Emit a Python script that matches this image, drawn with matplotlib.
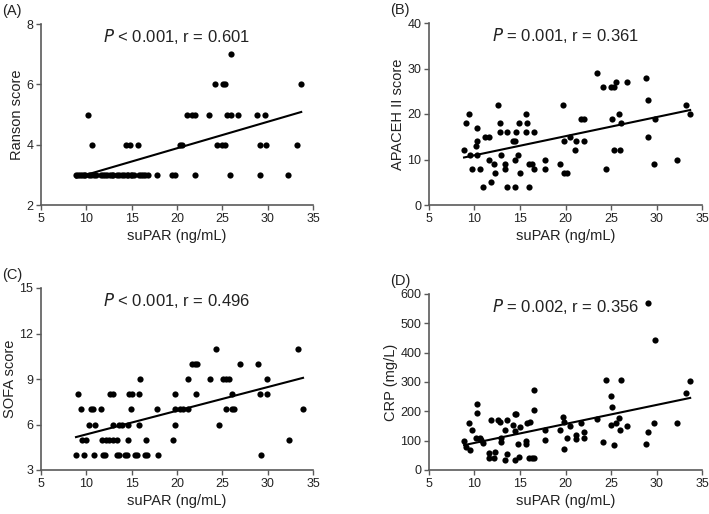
import numpy as np
import matplotlib.pyplot as plt

plt.rcParams['font.family'] = ['Liberation Sans', 'DejaVu Sans']

# (A) Ranson score
ranson_x = [8.9, 9.1, 9.3, 9.5, 9.7, 9.9, 10.3, 10.5, 10.9, 11.1, 11.6, 11.8, 12.1, 12.3,
            12.6, 12.8, 12.9, 13.4, 13.6, 13.9, 14.2, 14.5, 14.6, 14.9, 15.0, 15.3, 15.8,
            16.0, 16.3, 16.5, 16.8, 17.8, 19.5, 19.8, 22.0, 25.9, 29.1, 32.2,
            10.6, 14.4, 14.8, 15.7, 20.3, 20.5, 24.4, 25.0, 25.3, 29.1, 29.8, 33.2,
            10.2, 21.1, 21.6, 22.0, 23.5, 25.5, 26.0, 26.7, 28.8, 29.7,
            24.2, 25.1, 25.3, 33.7,
            26.0]
ranson_y = [3] * 38 + [4] * 12 + [5] * 10 + [6] * 4 + [7]

# (B) APACHE II score
apache_x = [8.85, 9.03, 9.36, 9.54, 9.7, 10.2, 10.3, 10.3, 10.3, 10.6, 10.9, 11.1, 11.6, 11.6,
            11.8, 12.1, 12.3, 12.6, 12.8, 12.8, 12.9, 13.4, 13.4, 13.6, 13.6, 14.2, 14.4,
            14.5, 14.5, 14.6, 14.8, 14.9, 15.0, 15.7, 15.7, 15.8, 15.95, 15.95, 16.3, 16.5,
            16.5, 17.7, 17.7, 19.4, 19.7, 19.8, 19.8, 20.2, 20.5, 21.0, 21.1, 21.7, 22.0,
            22.0, 23.5, 24.1, 24.5, 25.0, 25.3, 25.1, 25.3, 25.6, 25.9, 26.0, 26.1, 26.8,
            28.8, 29.1, 29.1, 29.7, 29.8, 32.2, 33.2, 33.7]
apache_y = [12, 18, 20, 11, 8, 13, 14, 17, 11, 8, 4, 15, 15, 10,
            5, 9, 7, 22, 18, 16, 11, 9, 8, 16, 4, 14, 10,
            14, 4, 16, 11, 18, 7, 20, 16, 18, 9, 4, 9, 8,
            16, 10, 8, 9, 22, 14, 7, 7, 15, 12, 14, 19, 19,
            14, 29, 26, 8, 26, 26, 19, 12, 27, 20, 12, 18, 27,
            28, 23, 15, 9, 19, 10, 22, 20]

# (C) SOFA score
sofa_x = [8.86, 9.77, 10.87, 11.8, 12.05, 13.34, 13.6, 14.25, 14.44, 15.35, 15.6, 16.46, 16.68, 17.85, 29.3,
          9.5, 10.0, 11.7, 12.2, 12.5, 12.97, 13.4, 14.6, 16.6, 19.6, 32.4,
          10.3, 10.95, 12.97, 13.6, 13.9, 14.6, 15.8, 19.8, 24.6,
          9.44, 10.5, 10.7, 11.6, 14.9, 17.8, 19.8, 20.3, 20.7, 21.2, 25.4, 26.1, 26.3, 33.9,
          9.1, 12.6, 12.97, 14.7, 15.0, 15.8, 19.8, 22.1, 26.1, 29.2, 29.9,
          15.9, 21.2, 23.6, 25.1, 25.4, 25.7, 29.9,
          21.7, 22.0, 22.2, 26.9, 28.9,
          24.3, 33.3]
sofa_y = [4] * 15 + [5] * 11 + [6] * 9 + [7] * 14 + [8] * 11 + [9] * 7 + [10] * 5 + [11] * 2

# (D) CRP
crp_x = [8.85, 9.03, 9.36, 9.54, 9.7, 10.2, 10.3, 10.3, 10.6, 10.75, 10.9, 11.6, 11.6, 11.8,
         12.1, 12.3, 12.6, 12.8, 12.9, 12.9, 13.4, 13.4, 13.6, 13.6, 14.2, 14.4, 14.5, 14.5,
         14.6, 14.8, 14.9, 15.0, 15.7, 15.7, 15.8, 15.95, 16.1, 16.3, 16.5, 16.5, 16.5, 17.7,
         17.7, 19.4, 19.7, 19.8, 19.8, 20.2, 20.5, 21.1, 21.1, 21.7, 22.0, 22.0, 23.5, 24.1,
         24.5, 25.0, 25.1, 25.0, 25.3, 25.6, 25.9, 26.0, 26.1, 26.8, 28.8, 29.1, 29.1, 29.7,
         29.8, 32.2, 33.2, 33.7]
crp_y = [100, 77, 161, 68, 135, 108, 226, 193, 110, 102, 93, 57, 40, 172,
         40, 60, 169, 162, 110, 94, 138, 33, 171, 56, 154, 133, 33, 190,
         190, 88, 44, 147, 100, 87, 159, 40, 164, 40, 272, 204, 42, 138,
         103, 135, 181, 162, 71, 110, 151, 120, 105, 161, 128, 109, 174, 95,
         307, 253, 215, 153, 85, 161, 176, 138, 306, 150, 87, 130, 570, 159,
         442, 159, 261, 304]

panels = [
    ('(A)', ranson_x, ranson_y, 'Ranson score', (2, 8), [2, 4, 6, 8], '<', '0.001', '0.601'),
    ('(B)', apache_x, apache_y, 'APACEH II score', (0, 40), [0, 10, 20, 30, 40], '=', '0.001', '0.361'),
    ('(C)', sofa_x, sofa_y, 'SOFA score', (3, 15), [3, 6, 9, 12, 15], '<', '0.001', '0.496'),
    ('(D)', crp_x, crp_y, 'CRP (mg/L)', (0, 600), [0, 100, 200, 300, 400, 500, 600], '=', '0.002', '0.356'),
]

# posiciones de los ejes en pixeles (izq, der, arriba, abajo)
W, H = 709, 514
boxes = [(41, 313, 24, 205), (429, 702, 23, 205), (41, 313, 288, 470), (429, 702, 294, 470)]

fig = plt.figure(figsize=(7.09, 5.14), dpi=100)
gris = '#5a5a5a'

for (lab, x, y, ylab, ylim, yt, op, p, r), (x0, x1, y0, y1) in zip(panels, boxes):
    ax = fig.add_axes([x0 / W, 1 - y1 / H, (x1 - x0) / W, (y1 - y0) / H])
    x = np.array(x)
    y = np.array(y)
    ax.scatter(x, y, s=20, color='black', zorder=3, linewidths=0)
    m, b = np.polyfit(x, y, 1)          # recta de regresion
    xx = np.array([x.min(), x.max()])
    ax.plot(xx, m * xx + b, color='black', lw=1.5, zorder=4)
    ax.set_xlim(5, 35)
    ax.set_ylim(*ylim)
    ax.set_xticks([5, 10, 15, 20, 25, 30, 35])
    ax.set_yticks(yt)
    for s in ['top', 'right']:
        ax.spines[s].set_visible(False)
    for s in ['left', 'bottom']:
        ax.spines[s].set_color(gris)
        ax.spines[s].set_linewidth(1.2)
    ax.tick_params(colors=gris, labelcolor='#222222', labelsize=9, length=3.5, width=1.0, pad=2)
    ax.set_xlabel('suPAR (ng/mL)', fontsize=10.5, color='#222222', labelpad=3)
    ax.set_ylabel(ylab, fontsize=10.5, color='#222222', labelpad=2)
    ax.text(0.5, 0.985, r'$\it{P}$' + ' %s %s, r = %s' % (op, p, r), transform=ax.transAxes,
            ha='center', va='top', fontsize=12, color='#222222')
    fig.text((x0 - 41) / W + 2 / W, 1 - (y0 - 24 + 4) / H, lab, ha='left', va='top',
             fontsize=10.5, color='#222222')

plt.savefig('out.png', dpi=100)
